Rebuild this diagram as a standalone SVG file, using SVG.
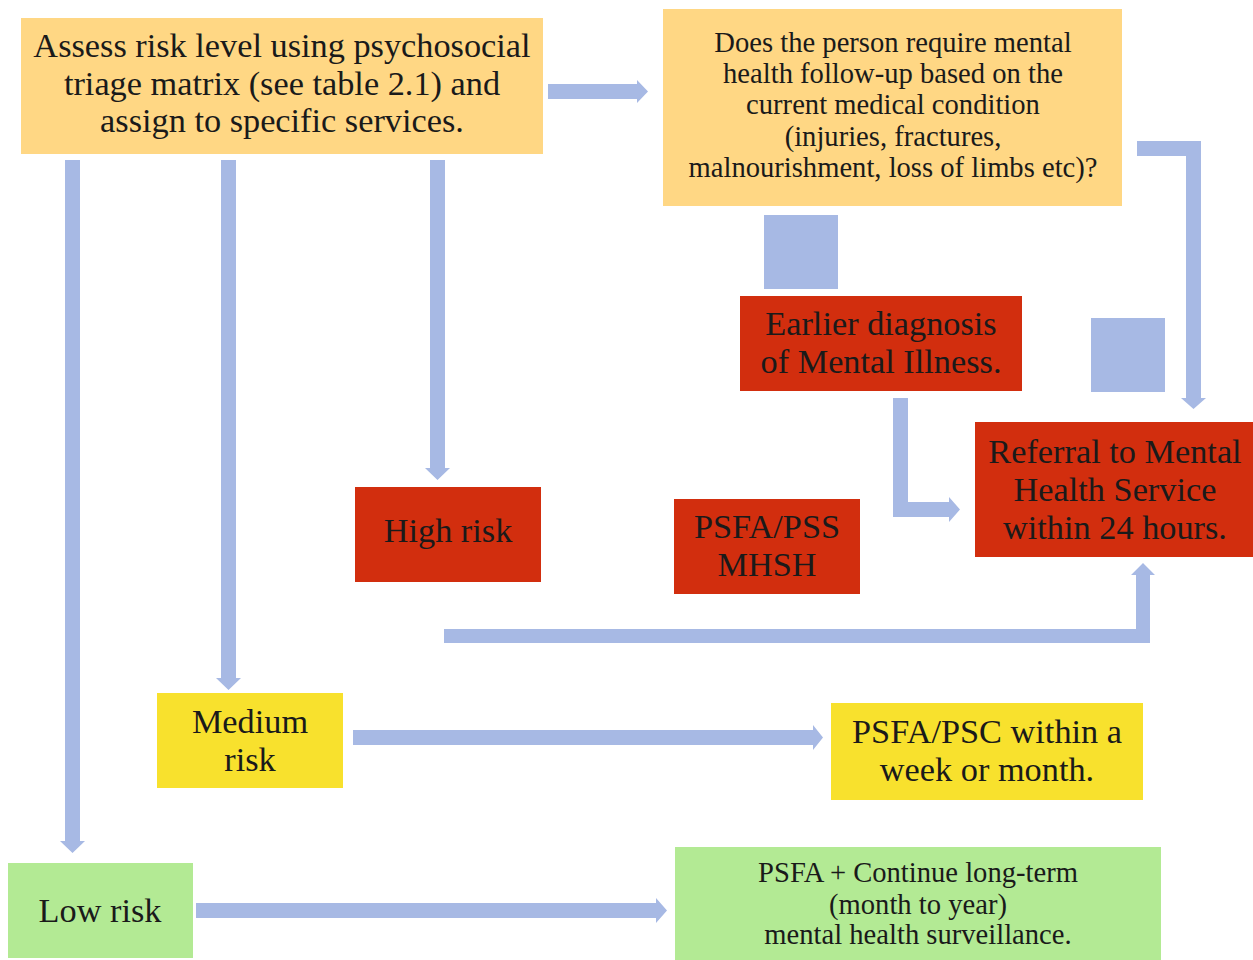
<svg xmlns="http://www.w3.org/2000/svg" width="1253" height="960" viewBox="0 0 1253 960">
<style>
text{font-family:"Liberation Serif","Times New Roman",serif;fill:#1a1a1a;text-anchor:middle}
.big{font-size:34.3px}
.sm{font-size:28.6px}
.arrow{fill:#A7B9E4}
.orange{fill:#FFD784}
.red{fill:#D22E0E}
.yellow{fill:#F8E12D}
.green{fill:#B3EA94}
</style>
<rect width="1253" height="960" fill="#fff"/>
<g id="connectors">
<polygon class="arrow" points="548,84 637,84 637,80 648,91.5 637,103 637,99 548,99"/>
<polygon class="arrow" points="430,160 445,160 445,468 450,468 437.5,480 425,468 430,468"/>
<polygon class="arrow" points="221,160 236,160 236,678 241,678 228.5,690 216,678 221,678"/>
<polygon class="arrow" points="65,160 80,160 80,841 85,841 72.5,853 60,841 65,841"/>
<polygon class="arrow" points="1137,141 1201,141 1201,398 1206,398 1193.5,409 1181,398 1186,398 1186,156 1137,156"/>
<polygon class="arrow" points="893,398 908,398 908,502 949,502 949,497 960,509.5 949,522 949,517 893,517"/>
<polygon class="arrow" points="444,629 1136,629 1136,575 1131,575 1143,563 1155,575 1150,575 1150,643 444,643"/>
<polygon class="arrow" points="353,730 813,730 813,725 823,737.5 813,750 813,745 353,745"/>
<polygon class="arrow" points="196,903 656,903 656,898 667,910.5 656,923 656,918 196,918"/>
<rect class="arrow" x="764" y="215" width="74" height="74"/>
<rect class="arrow" x="1091" y="318" width="74" height="74"/>
</g>
<g id="assess">
<rect class="orange" x="21" y="18" width="522" height="136"/>
<text class="big" x="282" y="57">Assess risk level using psychosocial</text>
<text class="big" x="282" y="95">triage matrix (see table 2.1) and</text>
<text class="big" x="282" y="132">assign to specific services.</text>
</g>
<g id="question">
<rect class="orange" x="663" y="9" width="459" height="197"/>
<text class="sm" x="893" y="52">Does the person require mental</text>
<text class="sm" x="893" y="83">health follow-up based on the</text>
<text class="sm" x="893" y="114">current medical condition</text>
<text class="sm" x="893" y="146">(injuries, fractures,</text>
<text class="sm" x="893" y="177">malnourishment, loss of limbs etc)?</text>
</g>
<g id="earlier">
<rect class="red" x="740" y="296" width="282" height="95"/>
<text class="big" x="881" y="335">Earlier diagnosis</text>
<text class="big" x="881" y="373">of Mental Illness.</text>
</g>
<g id="referral">
<rect class="red" x="975" y="422" width="278" height="135"/>
<text class="big" x="1115" y="463">Referral to Mental</text>
<text class="big" x="1115" y="501">Health Service</text>
<text class="big" x="1115" y="539">within 24 hours.</text>
</g>
<g id="high">
<rect class="red" x="355" y="487" width="186" height="95"/>
<text class="big" x="448" y="542">High risk</text>
</g>
<g id="psfa-pss">
<rect class="red" x="674" y="499" width="186" height="95"/>
<text class="big" x="767" y="538">PSFA/PSS</text>
<text class="big" x="767" y="576">MHSH</text>
</g>
<g id="medium">
<rect class="yellow" x="157" y="693" width="186" height="95"/>
<text class="big" x="250" y="733">Medium</text>
<text class="big" x="250" y="771">risk</text>
</g>
<g id="psfa-psc">
<rect class="yellow" x="831" y="703" width="312" height="97"/>
<text class="big" x="987" y="743">PSFA/PSC within a</text>
<text class="big" x="987" y="781">week or month.</text>
</g>
<g id="low">
<rect class="green" x="8" y="863" width="185" height="95"/>
<text class="big" x="100" y="922">Low risk</text>
</g>
<g id="longterm">
<rect class="green" x="675" y="847" width="486" height="113"/>
<text class="sm" x="918" y="882">PSFA + Continue long-term</text>
<text class="sm" x="918" y="914">(month to year)</text>
<text class="sm" x="918" y="944">mental health surveillance.</text>
</g>
</svg>
